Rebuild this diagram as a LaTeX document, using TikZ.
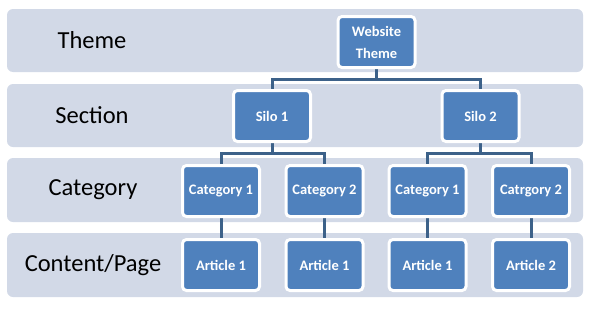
\documentclass[tikz,border=0pt]{standalone}
\usepackage{fontspec}
\setmainfont{Carlito}
\usetikzlibrary{backgrounds}
\definecolor{bandgray}{HTML}{D2D9E7}
\definecolor{boxblue}{HTML}{4F81BD}
\definecolor{linkblue}{HTML}{3C6189}
\tikzset{
  level/.style={fill=bandgray, rounded corners=6pt},
  levelname/.style={font=\fontsize{24.5}{26}\selectfont, text=black},
  page/.style={draw=white, line width=3pt, fill=boxblue, rounded corners=4pt,
    minimum width=77pt, minimum height=51pt, inner sep=1pt, align=center,
    text=white, font=\bfseries\fontsize{14.5}{22}\selectfont},
  link/.style={draw=linkblue, line width=3pt}
}
\begin{document}
\begin{tikzpicture}[x=1pt,y=-1pt]
\useasboundingbox (0,0) rectangle (591,308);
% level names
\node[levelname] (lt) at (92,40) {Theme};
\node[levelname] (ls) at (92,115) {Section};
\node[levelname] (lc) at (93,190) {Category};
\node[levelname] (lp) at (93,265) {Content/Page};
% hierarchy
\node[page] (theme) at (376.5,42) {Website\\Theme};
\node[page] (silo1) at (272,116) {Silo 1};
\node[page] (silo2) at (480.5,116) {Silo 2};
\node[page] (cat1) at (221,191) {Category 1};
\node[page] (cat2) at (324.5,191) {Category 2};
\node[page] (cat3) at (427.5,191) {Category 1};
\node[page] (cat4) at (531,191) {Catrgory 2};
\node[page] (art1) at (221,265) {Article 1};
\node[page] (art2) at (324.5,265) {Article 1};
\node[page] (art3) at (427.5,265) {Article 1};
\node[page] (art4) at (531,265) {Article 2};
\begin{pgfonlayer}{background}
\fill[level] (7,9) rectangle (583,72);
\fill[level] (7,84) rectangle (583,147);
\fill[level] (7,158) rectangle (583,222);
\fill[level] (7,233) rectangle (583,297);
\draw[link] (theme) -- ++(0,37) -| (silo1);
\draw[link] (theme) -- ++(0,37) -| (silo2);
\draw[link] (silo1) -- ++(0,37) -| (cat1);
\draw[link] (silo1) -- ++(0,37) -| (cat2);
\draw[link] (silo2) -- ++(0,37) -| (cat3);
\draw[link] (silo2) -- ++(0,37) -| (cat4);
\draw[link] (cat1) -- (art1);
\draw[link] (cat2) -- (art2);
\draw[link] (cat3) -- (art3);
\draw[link] (cat4) -- (art4);
\end{pgfonlayer}
\end{tikzpicture}
\end{document}
